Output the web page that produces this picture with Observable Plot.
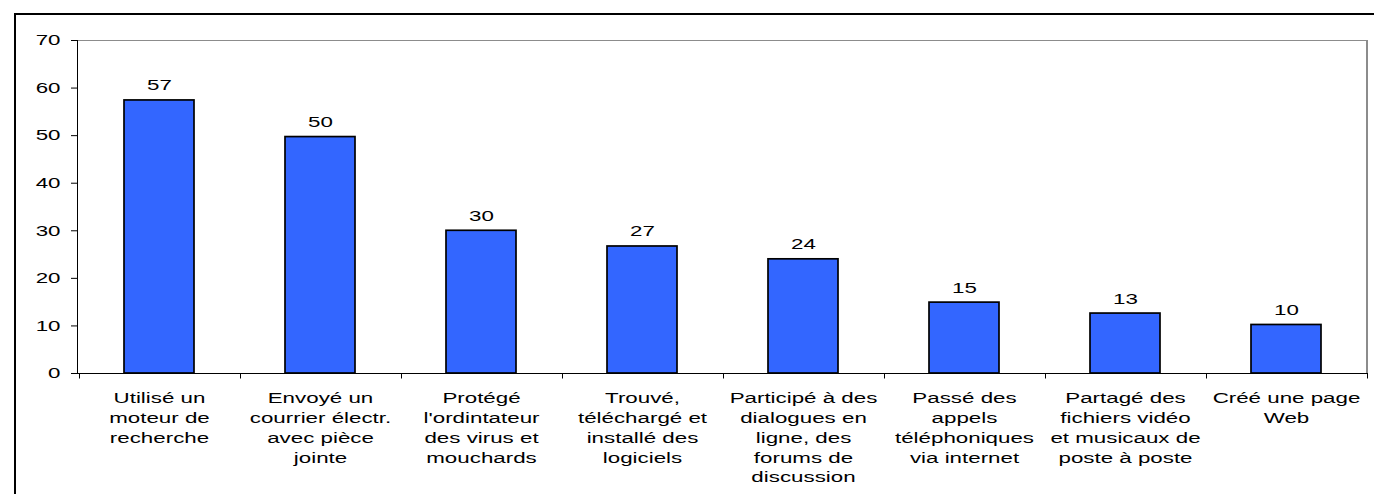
<!DOCTYPE html>
<html>
<head>
<meta charset="utf-8">
<script src="https://cdn.jsdelivr.net/npm/d3@7"></script>
<script src="https://cdn.jsdelivr.net/npm/@observablehq/plot@0.6"></script>
<style>
  html, body { margin: 0; padding: 0; background: #fff; }
  #wrap { position: relative; width: 1374px; height: 494px; overflow: hidden; }
  #frame { position: absolute; left: 14px; top: 13px; width: 2000px; height: 1000px;
           border-left: 2px solid #000; border-top: 2px solid #000; pointer-events: none; z-index: 2; }
</style>
</head>
<body>
<div id="wrap"><div id="frame"></div></div>
<script>
const categories = [
  "Utilisé un\nmoteur de\nrecherche",
  "Envoyé un\ncourrier électr.\navec pièce\njointe",
  "Protégé\nl'ordintateur\ndes virus et\nmouchards",
  "Trouvé,\ntéléchargé et\ninstallé des\nlogiciels",
  "Participé à des\ndialogues en\nligne, des\nforums de\ndiscussion",
  "Passé des\nappels\ntéléphoniques\nvia internet",
  "Partagé des\nfichiers vidéo\net musicaux de\nposte à poste",
  "Créé une page\nWeb"
];
const values = [57.4, 49.7, 30.0, 26.7, 24.0, 14.9, 12.6, 10.2];
const valueLabels = ["57", "50", "30", "27", "24", "15", "13", "10"];
const yTicks = [0, 10, 20, 30, 40, 50, 60, 70];

const data = categories.map((c, i) => ({cat: c, value: values[i], label: valueLabels[i]}));

function borders(index, scales, vals, dimensions) {
  const {width, marginLeft, marginRight} = dimensions;
  const x0 = marginLeft, x1 = width - marginRight;
  const yTop = scales.y(yTicks[yTicks.length - 1]), yBot = scales.y(0);
  const g = d3.create("svg:g");
  g.append("line").attr("x1", x0).attr("x2", x1).attr("y1", yTop + 0.5).attr("y2", yTop + 0.5)
    .attr("stroke", "#8c8c8c").attr("stroke-width", 1);
  g.append("line").attr("x1", x1 - 1).attr("x2", x1 - 1).attr("y1", yTop).attr("y2", yBot)
    .attr("stroke", "#8c8c8c").attr("stroke-width", 2);
  g.append("line").attr("x1", x0 + 0.5).attr("x2", x0 + 0.5).attr("y1", yTop).attr("y2", yBot)
    .attr("stroke", "#000").attr("stroke-width", 1);
  g.append("line").attr("x1", x0).attr("x2", x1).attr("y1", yBot + 0.5).attr("y2", yBot + 0.5)
    .attr("stroke", "#000").attr("stroke-width", 1);
  const step = scales.x.step(), bw = scales.x.bandwidth();
  const bounds = categories.map(c => scales.x(c) - (step - bw) / 2);
  bounds.push(scales.x(categories[categories.length - 1]) + bw + (step - bw) / 2);
  for (const bx of bounds) {
    const px = Math.round(bx) + 0.5;
    g.append("line").attr("x1", px).attr("x2", px).attr("y1", yBot).attr("y2", yBot + 5.5)
      .attr("stroke", "#000").attr("stroke-width", 1);
  }
  return g.node();
}

const chart = Plot.plot({
  width: 1374,
  height: 494,
  marginLeft: 77,
  marginRight: 6,
  marginTop: 40,
  marginBottom: 121,
  style: {fontFamily: "'Liberation Sans', Arial, sans-serif", fontSize: "15px", color: "#000", background: "transparent"},
  x: {domain: categories, paddingInner: 0.565, paddingOuter: 0.2825},
  y: {domain: [0, 70]},
  marks: [
    borders,
    Plot.barY(data, {x: "cat", y: "value", fill: "#3366FF", stroke: "#000", strokeWidth: 1.7}),
    Plot.text(data, {x: "cat", y: "value", text: "label", lineAnchor: "bottom", dy: -10, fontSize: 15, fill: "#000"}),
    Plot.axisY({ticks: yTicks, tickSize: 6, tickPadding: 11, label: null, fontSize: 15}),
    Plot.axisX({tickSize: 0, tickPadding: 15, lineHeight: 1.33, label: null, fontSize: 15})
  ]
});

// The reference's lettering is horizontally stretched (~1.49x); mimic by scaling each text around its anchor.
chart.querySelectorAll("text").forEach(t => {
  const tr = t.getAttribute("transform") || "";
  const x = +(t.getAttribute("x") || 0);
  t.setAttribute("transform", tr + ` translate(${x},0) scale(1.49,1) translate(${-x},0)`);
});

document.getElementById("wrap").prepend(chart);
</script>
</body>
</html>
